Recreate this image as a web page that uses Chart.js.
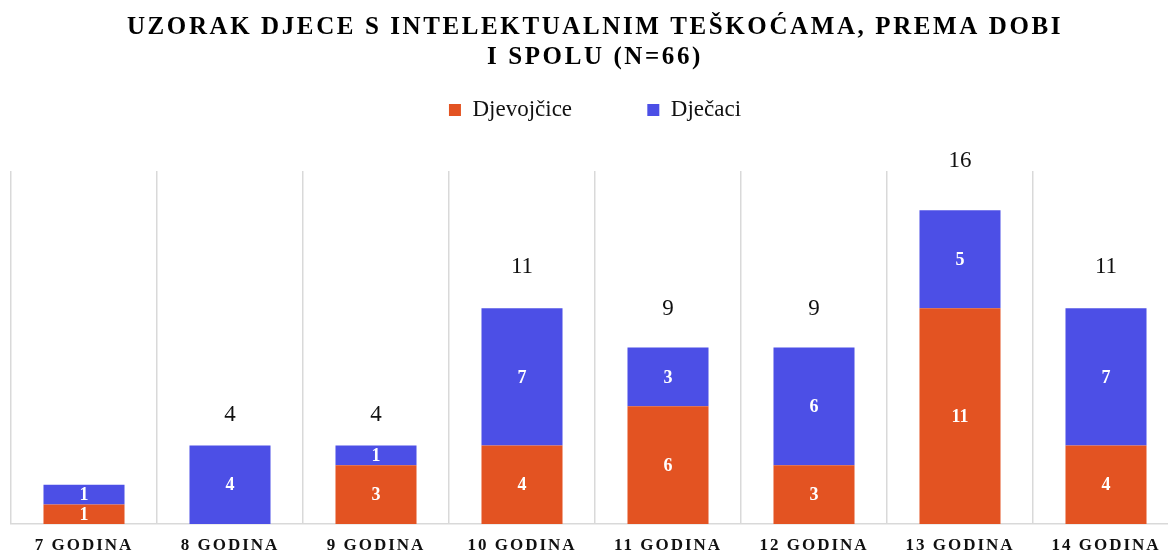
<!DOCTYPE html>
<html>
<head>
<meta charset="utf-8">
<script src="https://cdn.jsdelivr.net/npm/chart.js@4"></script>
<style>
    html, body { margin: 0; padding: 0; background: #fff; overflow: hidden; }
    #wrap { position: relative; width: 1190px; height: 553px; }
</style>
</head>
<body>
<div id="wrap"><canvas id="grafico"></canvas></div>
<script>
// podaci s grafa
const kategorije = ['7 GODINA', '8 GODINA', '9 GODINA', '10 GODINA', '11 GODINA', '12 GODINA', '13 GODINA', '14 GODINA'];
const djevojcice = [1, 0, 3, 4, 6, 3, 11, 4];
const djecaci = [1, 4, 1, 7, 3, 6, 5, 7];
const ukupnoOznake = ['', '4', '4', '11', '9', '9', '16', '11'];
const yMax = 18;

const boja1 = '#E35322';
const boja2 = '#4C4FE6';
const font = "'Liberation Serif', 'Times New Roman', serif";

// razmak izmedju slova (naslov i kategorije)
function razmak(obj, metoda, px) {
    if (!obj || obj['_razmak_' + metoda]) return;
    const orig = obj.constructor.prototype[metoda];
    obj[metoda] = function () {
        const ctx = this.ctx;
        const staro = ctx.letterSpacing;
        ctx.letterSpacing = px;
        orig.apply(this, arguments);
        ctx.letterSpacing = staro;
    };
    obj['_razmak_' + metoda] = true;
}

const razmakPlugin = {
    id: 'razmak',
    beforeDraw(chart) {
        chart.ctx.letterSpacing = '0px';
        razmak(chart.titleBlock, 'draw', '2.6px');
        razmak(chart.scales.x, 'drawLabels', '2px');
    }
};

const oznakePlugin = {
    id: 'oznake',
    afterDatasetsDraw(chart) {
        const ctx = chart.ctx;
        ctx.save();
        ctx.letterSpacing = '0px';
        ctx.textAlign = 'center';
        ctx.textBaseline = 'middle';
        ctx.fillStyle = '#ffffff';
        ctx.font = 'bold 18px ' + font;
        chart.data.datasets.forEach(function (ds, i) {
            const meta = chart.getDatasetMeta(i);
            meta.data.forEach(function (bar, j) {
                if (!ds.data[j]) return;
                ctx.fillText(String(ds.data[j]), bar.x, (bar.y + bar.base) / 2 + 1);
            });
        });
        const y = chart.scales.y;
        ctx.fillStyle = '#111111';
        ctx.font = '23px ' + font;
        const meta0 = chart.getDatasetMeta(0);
        ukupnoOznake.forEach(function (t, j) {
            if (!t) return;
            const ukupno = djevojcice[j] + djecaci[j];
            ctx.fillText(t, meta0.data[j].x, y.getPixelForValue(ukupno * 1.08) - 24);
        });
        ctx.restore();
    }
};

var ctx = document.getElementById('grafico').getContext('2d');
var grafikon = new Chart(ctx, {
    type: 'bar',
    data: {
        labels: kategorije,
        datasets: [{
            label: 'Djevojčice',
            data: djevojcice,
            backgroundColor: boja1,
            borderWidth: 0,
            categoryPercentage: 1,
            barPercentage: 0.555
        }, {
            label: 'Dječaci',
            data: djecaci,
            backgroundColor: boja2,
            borderWidth: 0,
            categoryPercentage: 1,
            barPercentage: 0.555
        }]
    },
    options: {
        responsive: true,
        maintainAspectRatio: false,
        animation: false,
        layout: {
            padding: { left: 11, right: 11, top: 0, bottom: 0 }
        },
        plugins: {
            title: {
                display: true,
                text: ['UZORAK DJECE S INTELEKTUALNIM TEŠKOĆAMA, PREMA DOBI', 'I SPOLU (N=66)'],
                color: '#000000',
                font: { family: font, size: 25, weight: 'bold', lineHeight: 1.2 },
                padding: { top: 13, bottom: 13.5 }
            },
            legend: {
                position: 'top',
                labels: {
                    color: '#111111',
                    font: { family: font, size: 23 },
                    boxWidth: 12,
                    boxHeight: 12,
                    padding: 12,
                    generateLabels: function (chart) {
                        const items = Chart.defaults.plugins.legend.labels.generateLabels(chart);
                        items[0].text = items[0].text + '           ';
                        return items;
                    }
                }
            },
            subtitle: {
                display: true,
                text: '',
                weight: 500,
                font: { size: 10, lineHeight: 1 },
                padding: { top: 0, bottom: 29.5 }
            },
            tooltip: { enabled: false }
        },
        scales: {
            x: {
                stacked: true,
                grid: {
                    display: true,
                    offset: true,
                    color: '#d9d9d9',
                    lineWidth: 1.5,
                    drawTicks: false
                },
                border: { display: true, color: '#d9d9d9', width: 1.5 },
                ticks: {
                    color: '#111111',
                    font: { family: font, size: 17, weight: 'bold' },
                    padding: 11,
                    maxRotation: 0,
                    autoSkip: false
                },
                afterFit: function (scale) {
                    scale.height = 29;
                }
            },
            y: {
                stacked: true,
                display: false,
                min: 0,
                max: yMax
            }
        }
    },
    plugins: [razmakPlugin, oznakePlugin]
});
</script>
</body>
</html>
